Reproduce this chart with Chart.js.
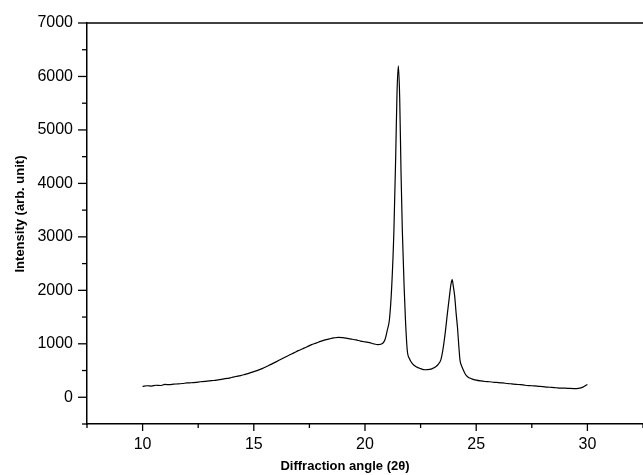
<!DOCTYPE html>
<html>
<head>
  <meta charset="utf-8" />
  <title>XRD pattern</title>
  <script src="https://cdn.jsdelivr.net/npm/chart.js@4.4.1/dist/chart.umd.min.js"></script>
  <style>
    body { margin: 0; background: #ffffff; }
    #wrap { width: 643px; height: 475px; position: relative; }
  </style>
</head>
<body>
  <div id="wrap"><canvas id="xrd"></canvas></div>
  <script>
    // diffraction angle (2 theta) and intensity
    const angles = [
      10.0, 10.2, 10.4, 10.6, 10.8, 11.0, 11.2, 11.4, 11.6, 11.8,
      12.0, 12.2, 12.4, 12.6, 12.8, 13.0, 13.2, 13.4, 13.6, 13.8,
      14.0, 14.2, 14.4, 14.6, 14.8, 15.0, 15.2, 15.4, 15.6, 15.8,
      16.0, 16.2, 16.4, 16.6, 16.8, 17.0, 17.2, 17.4, 17.6, 17.8,
      18.0, 18.2, 18.4, 18.6, 18.8, 19.0, 19.2, 19.4, 19.6, 19.8,
      20.0, 20.2, 20.4, 20.6, 20.8, 20.9, 21.0, 21.1, 21.2, 21.3,
      21.38, 21.44, 21.5, 21.56, 21.62, 21.68, 21.76, 21.82, 21.9, 22.0,
      22.13, 22.3, 22.5, 22.7, 22.9, 23.05, 23.18, 23.3, 23.41, 23.5,
      23.6, 23.7, 23.8, 23.86, 23.92, 23.97, 24.03, 24.1, 24.16, 24.22,
      24.27, 24.33, 24.39, 24.5, 24.61, 24.8, 25.0, 25.2, 25.4, 25.6,
      25.8, 26.0, 26.2, 26.4, 26.6, 26.8, 27.0, 27.2, 27.4, 27.6,
      27.8, 28.0, 28.2, 28.4, 28.6, 28.8, 29.0, 29.2, 29.4, 29.6,
      29.8, 29.9, 30.0
    ];
    const intensity = [
      205, 215, 210, 225, 220, 240, 235, 245, 250, 258,
      268, 272, 280, 290, 296, 308, 314, 326, 338, 352,
      370, 388, 405, 428, 452, 480, 508, 540, 580, 620,
      662, 705, 748, 790, 830, 872, 908, 945, 985, 1012,
      1045, 1072, 1092, 1110, 1122, 1115, 1102, 1088, 1072, 1050,
      1035, 1022, 998, 985, 1010, 1080, 1250, 1460, 2060, 3120,
      4500, 5700, 6200, 5600, 4200, 3100, 2060, 1440, 880, 720,
      630, 570, 535, 515, 520, 540, 570, 620, 700, 880,
      1180, 1550, 1900, 2100, 2200, 2080, 1900, 1560, 1300, 950,
      700, 600, 540, 440, 385, 345, 320, 305, 295, 290,
      280, 275, 268, 258, 250, 242, 235, 225, 218, 212,
      205, 198, 190, 185, 178, 172, 170, 165, 163, 168,
      190, 215, 240
    ];
    const xLabels = [10, 15, 20, 25, 30];
    const yLabels = [0, 1000, 2000, 3000, 4000, 5000, 6000, 7000];

    const points = angles.map((a, i) => ({ x: a, y: intensity[i] }));

    // axis frame and tick marks, Origin style (ticks pointing out)
    const framePlugin = {
      id: 'frame',
      afterDraw(chart) {
        const ctx = chart.ctx;
        const area = chart.chartArea;
        const xs = chart.scales.x, ys = chart.scales.y;
        ctx.save();
        ctx.strokeStyle = '#000';
        ctx.lineWidth = 1.5;
        ctx.beginPath();
        ctx.moveTo(area.left, area.top);
        ctx.lineTo(area.right, area.top);
        ctx.stroke();
        ctx.lineWidth = 1.3;
        xs.ticks.forEach(t => {
          const px = xs.getPixelForValue(t.value);
          const len = xLabels.includes(t.value) ? 7 : 4;
          ctx.beginPath();
          ctx.moveTo(px, area.bottom);
          ctx.lineTo(px, area.bottom + len);
          ctx.stroke();
        });
        ys.ticks.forEach(t => {
          const py = ys.getPixelForValue(t.value);
          const len = yLabels.includes(t.value) ? 9 : 5;
          ctx.beginPath();
          ctx.moveTo(area.left, py);
          ctx.lineTo(area.left - len, py);
          ctx.stroke();
        });
        // axis titles
        ctx.fillStyle = '#000';
        ctx.font = 'bold 13px "Liberation Sans", Arial, sans-serif';
        ctx.textAlign = 'center';
        ctx.textBaseline = 'alphabetic';
        ctx.fillText('Diffraction angle (2\u03b8)', 345, 470);
        ctx.translate(24, 214);
        ctx.rotate(-Math.PI / 2);
        ctx.fillText('Intensity (arb. unit)', 0, 0);
        ctx.restore();
      }
    };

    new Chart(document.getElementById('xrd'), {
      type: 'line',
      data: {
        datasets: [{
          data: points,
          borderColor: '#000000',
          borderWidth: 1.2,
          pointRadius: 0,
          cubicInterpolationMode: 'monotone',
          fill: false
        }]
      },
      options: {
        responsive: true,
        maintainAspectRatio: false,
        animation: false,
        layout: { padding: { top: 23, right: 0, left: 0, bottom: 0 } },
        plugins: {
          legend: { display: false },
          tooltip: { enabled: false }
        },
        scales: {
          x: {
            type: 'linear',
            min: 7.5,
            max: 32.5,
            afterFit: s => { s.height = 51; s.paddingLeft = 0; s.paddingRight = 0; },
            grid: { display: false, drawTicks: false },
            border: { display: true, color: '#000', width: 1.5 },
            ticks: {
              stepSize: 2.5,
              padding: 11,
              maxRotation: 0,
              autoSkip: false,
              color: '#000',
              font: { size: 16, family: '"Liberation Sans", Arial, sans-serif' },
              callback: v => xLabels.includes(v) ? String(v) : ''
            }
          },
          y: {
            min: -500,
            max: 7000,
            afterFit: s => { s.width = 87; s.paddingTop = 0; s.paddingBottom = 0; },
            grid: { display: false, drawTicks: false },
            border: { display: true, color: '#000', width: 1.5 },
            ticks: {
              stepSize: 500,
              padding: 14,
              autoSkip: false,
              color: '#000',
              font: { size: 16, family: '"Liberation Sans", Arial, sans-serif' },
              callback: v => yLabels.includes(v) ? String(v) : ''
            }
          }
        }
      },
      plugins: [framePlugin]
    });
  </script>
</body>
</html>
